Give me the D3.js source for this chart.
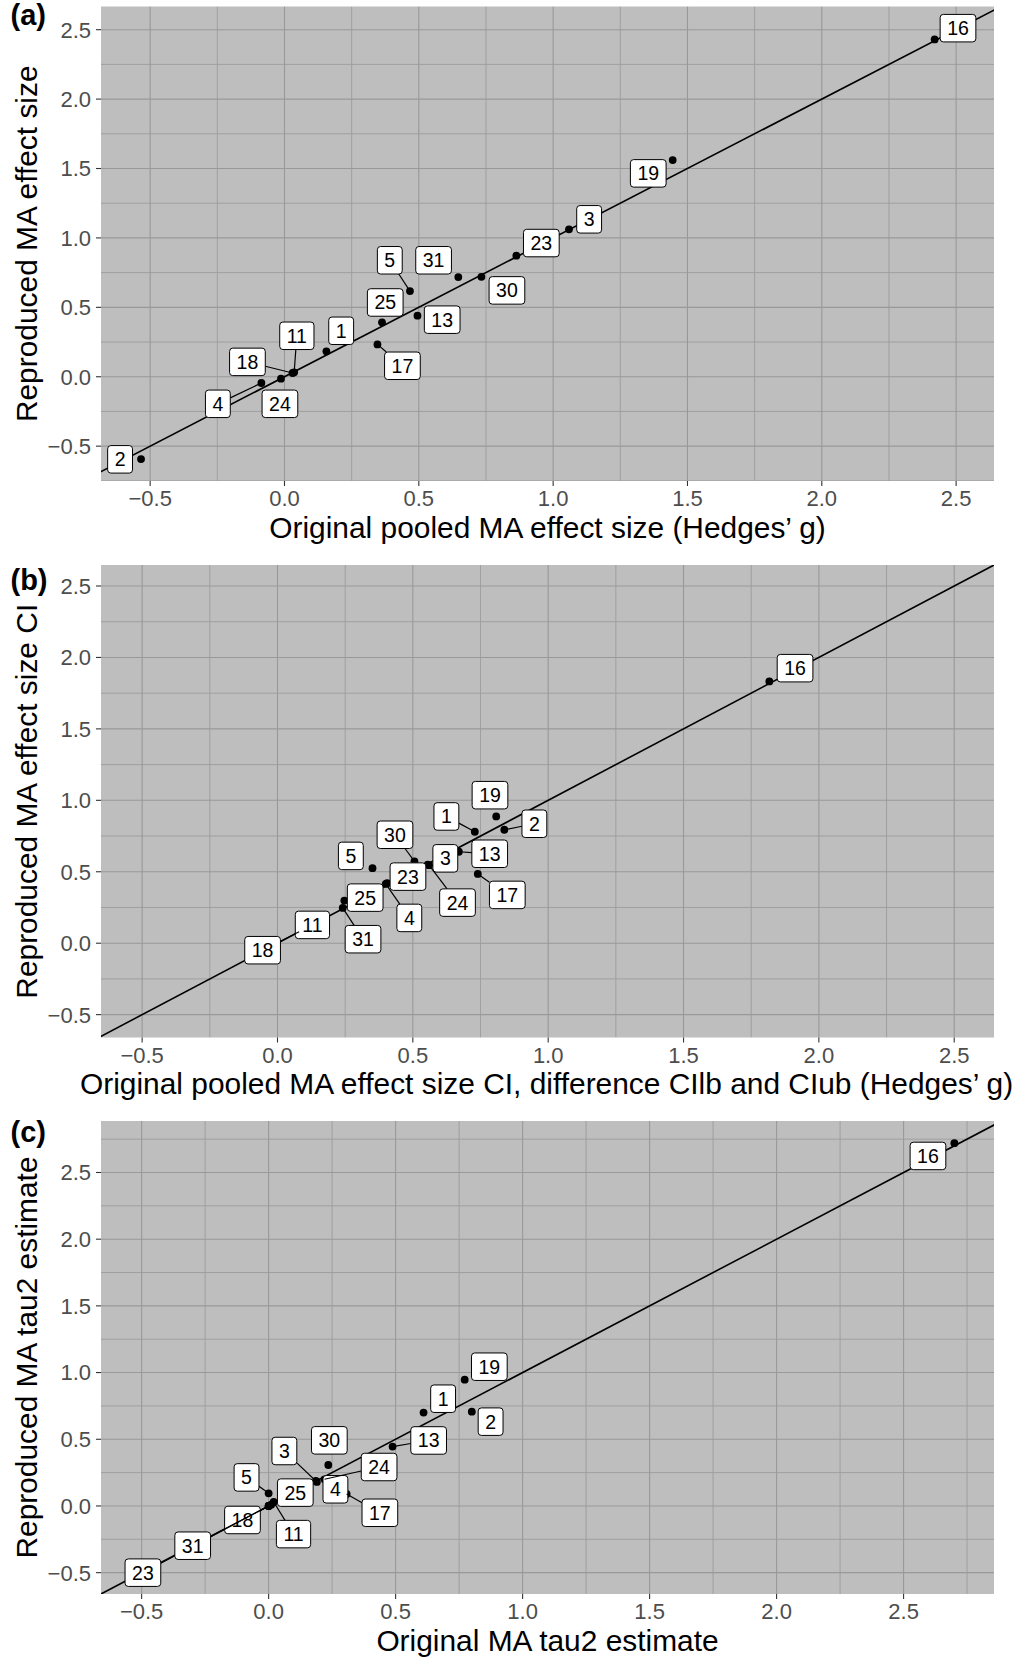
<!DOCTYPE html>
<html><head><meta charset="utf-8">
<script src="https://cdn.jsdelivr.net/npm/d3@7"></script>
<style>
body{margin:0;background:#fff}
svg{display:block;font-family:"Liberation Sans",Arial,Helvetica,sans-serif}
</style>
</head><body>
<svg id="chart" width="1026" height="1658"></svg>
<script>
// ---------- data ----------
const ids = [1, 2, 3, 4, 5, 11, 13, 16, 17, 18, 19, 23, 24, 25, 30, 31];

// (a) effect size: original vs reproduced
const aOrig = [0.156, -0.534, 1.059, -0.086, 0.467, 0.036, 0.495, 2.420, 0.346, 0.030, 1.445, 0.863, -0.013, 0.363, 0.733, 0.647];
const aRepr = [0.183, -0.593, 1.062, -0.045, 0.617, 0.032, 0.440, 2.430, 0.233, 0.027, 1.561, 0.872, -0.014, 0.392, 0.720, 0.718];

// (b) CI width: original vs reproduced
const bOrig = [0.729, 0.838, 0.555, 0.400, 0.351, 0.100, 0.670, 1.817, 0.740, 0.080, 0.808, 0.405, 0.560, 0.247, 0.506, 0.241];
const bRepr = [0.780, 0.794, 0.550, 0.415, 0.525, 0.090, 0.640, 1.832, 0.485, 0.080, 0.887, 0.420, 0.546, 0.298, 0.572, 0.247];

// (c) tau2: original vs reproduced
const cOrig = [0.610, 0.800, 0.186, 0.190, 0.000, 0.020, 0.488, 2.700, 0.307, 0.000, 0.772, 0.000, 0.220, 0.010, 0.235, 0.000];
const cRepr = [0.700, 0.707, 0.187, 0.180, 0.095, 0.030, 0.445, 2.720, 0.090, 0.000, 0.947, 0.000, 0.200, 0.010, 0.307, 0.000];

const tickValues = [-0.5, 0, 0.5, 1, 1.5, 2, 2.5];
const tickLabels = ["\u22120.5", "0.0", "0.5", "1.0", "1.5", "2.0", "2.5"];

const xTitles = ["Original pooled MA effect size (Hedges\u2019 g)",
                 "Original pooled MA effect size CI, difference CIlb and CIub (Hedges\u2019 g)",
                 "Original MA tau2 estimate"];
const yTitles = ["Reproduced MA effect size", "Reproduced MA effect size CI", "Reproduced MA tau2 estimate"];
const tags = ["(a)", "(b)", "(c)"];

// ---------- layout (repelled label placement, in data units) ----------
const aLabX = [0.211, -0.612, 1.134, -0.248, 0.392, 0.046, 0.587, 2.507, 0.439, -0.138, 1.354, 0.956, -0.017, 0.375, 0.828, 0.555];
const aLabY = [0.331, -0.595, 1.134, -0.195, 0.839, 0.295, 0.411, 2.511, 0.079, 0.107, 1.465, 0.963, -0.195, 0.535, 0.622, 0.839];
const bLabX = [0.624, 0.949, 0.620, 0.487, 0.271, 0.129, 0.784, 1.912, 0.849, -0.055, 0.785, 0.482, 0.665, 0.324, 0.434, 0.316];
const bLabY = [0.887, 0.836, 0.594, 0.177, 0.611, 0.128, 0.626, 1.925, 0.338, -0.049, 1.036, 0.466, 0.284, 0.319, 0.759, 0.028];
const cLabX = [0.687, 0.874, 0.062, 0.263, -0.087, 0.098, 0.630, 2.596, 0.438, -0.103, 0.869, -0.495, 0.435, 0.105, 0.239, -0.299];
const cLabY = [0.804, 0.632, 0.412, 0.125, 0.214, -0.211, 0.491, 2.624, -0.051, -0.105, 1.044, -0.500, 0.292, 0.100, 0.492, -0.298];
const aSeg = [4, 5, 11, 17, 18];
const bSeg = [1, 2, 4, 13, 17, 18, 24, 30, 31];
const cSeg = [3, 5, 11, 13, 17, 18, 23, 24, 31];

const panels = [
  {xs: aOrig, ys: aRepr, lx: aLabX, ly: aLabY, seg: aSeg, xDom: [-0.683, 2.641], yDom: [-0.751, 2.667],
   top: 6.5, bottom: 481, tagY: 15, titleStart: null, titleFs: 29.9},
  {xs: bOrig, ys: bRepr, lx: bLabX, ly: bLabY, seg: bSeg, xDom: [-0.652, 2.647], yDom: [-0.660, 2.647],
   top: 565, bottom: 1037.5, tagY: 580, titleStart: 80, titleFs: 29.9},
  {xs: cOrig, ys: cRepr, lx: cLabX, ly: cLabY, seg: cSeg, xDom: [-0.660, 2.856], yDom: [-0.660, 2.886],
   top: 1121, bottom: 1594, tagY: 1132, titleStart: null, titleFs: 29.9}
];

const L = 101, R = 994;
const svg = d3.select("#chart");
svg.append("rect").attr("width", 1026).attr("height", 1658).attr("fill", "#fff");

const LABEL_FS = 19.5, BOX_H = 27.5, PAD_X = 7;

panels.forEach((p, pi) => {
  const x = d3.scaleLinear().domain(p.xDom).range([L, R]);
  const y = d3.scaleLinear().domain(p.yDom).range([p.bottom, p.top]);
  const g = svg.append("g");
  const clipId = "clip" + pi;
  g.append("clipPath").attr("id", clipId).append("rect")
    .attr("x", L).attr("y", p.top).attr("width", R - L).attr("height", p.bottom - p.top);

  g.append("rect").attr("x", L).attr("y", p.top).attr("width", R - L).attr("height", p.bottom - p.top)
    .attr("fill", "#BEBEBE");

  const minor = d3.range(-0.75, 3.01, 0.5);
  const grid = g.append("g").attr("clip-path", `url(#${clipId})`);
  grid.selectAll(".mx").data(minor.filter(v => v >= p.xDom[0] && v <= p.xDom[1])).join("line")
    .attr("x1", d => x(d)).attr("x2", d => x(d)).attr("y1", p.top).attr("y2", p.bottom)
    .attr("stroke", "#9C9C9C").attr("stroke-width", 0.9);
  grid.selectAll(".my").data(minor.filter(v => v >= p.yDom[0] && v <= p.yDom[1])).join("line")
    .attr("y1", d => y(d)).attr("y2", d => y(d)).attr("x1", L).attr("x2", R)
    .attr("stroke", "#9C9C9C").attr("stroke-width", 0.9);
  grid.selectAll(".Mx").data(tickValues).join("line")
    .attr("x1", d => x(d)).attr("x2", d => x(d)).attr("y1", p.top).attr("y2", p.bottom)
    .attr("stroke", "#999999").attr("stroke-width", 1.1);
  grid.selectAll(".My").data(tickValues).join("line")
    .attr("y1", d => y(d)).attr("y2", d => y(d)).attr("x1", L).attr("x2", R)
    .attr("stroke", "#999999").attr("stroke-width", 1.1);

  const plot = g.append("g").attr("clip-path", `url(#${clipId})`);
  // identity line y = x
  const lo = Math.min(p.xDom[0], p.yDom[0]) - 1, hi = Math.max(p.xDom[1], p.yDom[1]) + 1;
  plot.append("line").attr("x1", x(lo)).attr("y1", y(lo)).attr("x2", x(hi)).attr("y2", y(hi))
    .attr("stroke", "#000").attr("stroke-width", 1.6);

  const rows = ids.map((id, i) => ({id, vx: p.xs[i], vy: p.ys[i], lx: p.lx[i], ly: p.ly[i]}));
  plot.selectAll("circle").data(rows).join("circle")
    .attr("cx", d => x(d.vx)).attr("cy", d => y(d.vy)).attr("r", 3.9).attr("fill", "#000");

  rows.forEach(d => {
    const cx = x(d.lx), cy = y(d.ly);
    const lg = plot.append("g");
    const seg = lg.append("line");
    const txt = lg.append("text").attr("x", cx).attr("y", cy).attr("text-anchor", "middle")
      .attr("dy", "0.36em").attr("font-size", LABEL_FS).attr("fill", "#000").text(d.id);
    const w = txt.node().getComputedTextLength() + 2 * PAD_X;
    const hw = w / 2, hh = BOX_H / 2;
    if (p.seg.includes(d.id)) {
      const px = x(d.vx), py = y(d.vy);
      const dx = px - cx, dy = py - cy;
      let t = Math.min(dx !== 0 ? hw / Math.abs(dx) : Infinity, dy !== 0 ? hh / Math.abs(dy) : Infinity);
      t = Math.min(t, 1);
      seg.attr("x1", cx + dx * t).attr("y1", cy + dy * t).attr("x2", px).attr("y2", py)
        .attr("stroke", "#000").attr("stroke-width", 1.2);
    } else seg.remove();
    lg.insert("rect", "text").attr("x", cx - hw).attr("y", cy - hh).attr("width", w).attr("height", BOX_H)
      .attr("rx", 3.2).attr("fill", "#fff").attr("stroke", "#000").attr("stroke-width", 1);
  });

  // axes
  const ax = g.append("g");
  ax.selectAll(".tx").data(tickValues).join("line")
    .attr("x1", d => x(d)).attr("x2", d => x(d)).attr("y1", p.bottom).attr("y2", p.bottom + 5)
    .attr("stroke", "#333").attr("stroke-width", 1.1);
  ax.selectAll(".ty").data(tickValues).join("line")
    .attr("y1", d => y(d)).attr("y2", d => y(d)).attr("x1", L - 5).attr("x2", L)
    .attr("stroke", "#333").attr("stroke-width", 1.1);
  ax.selectAll(".lx").data(tickValues).join("text")
    .attr("x", d => x(d)).attr("y", p.bottom + 17.5).attr("dy", "0.36em")
    .attr("text-anchor", "middle").attr("font-size", 22).attr("fill", "#4D4D4D")
    .text((d, i) => tickLabels[i]);
  ax.selectAll(".ly").data(tickValues).join("text")
    .attr("x", 91).attr("y", d => y(d)).attr("dy", "0.36em")
    .attr("text-anchor", "end").attr("font-size", 22).attr("fill", "#4D4D4D")
    .text((d, i) => tickLabels[i]);

  const xt = g.append("text").attr("y", p.bottom + 46).attr("dy", "0.36em")
    .attr("font-size", p.titleFs).attr("fill", "#000").text(xTitles[pi]);
  if (p.titleStart === null) xt.attr("x", (L + R) / 2).attr("text-anchor", "middle");
  else xt.attr("x", p.titleStart).attr("text-anchor", "start");
  g.append("text").attr("transform", `translate(26.5,${(p.top + p.bottom) / 2}) rotate(-90)`)
    .attr("dy", "0.36em").attr("text-anchor", "middle").attr("font-size", 29.9).attr("fill", "#000")
    .text(yTitles[pi]);
  g.append("text").attr("x", 10.5).attr("y", p.tagY).attr("dy", "0.36em")
    .attr("font-size", 29).attr("font-weight", "bold").attr("fill", "#000").text(tags[pi]);
});
</script>
</body></html>
